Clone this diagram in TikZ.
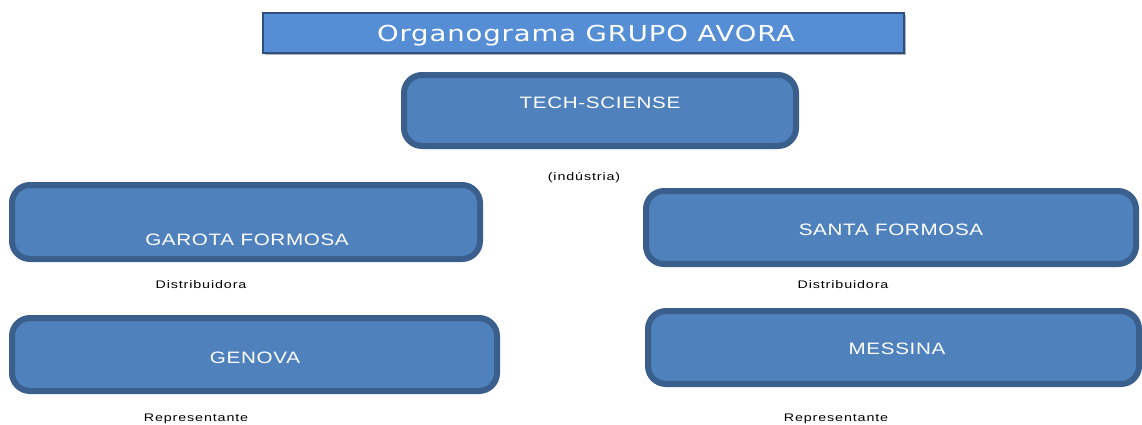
\documentclass[tikz,border=0pt]{standalone}
\usepackage{fontspec}
\setmainfont{Liberation Sans}
\newfontfamily\titlefont[FakeStretch=1.25,LetterSpace=4]{DejaVu Sans}
\newfontfamily\boxfont[FakeStretch=1.25,LetterSpace=4]{Liberation Sans}
\newfontfamily\smallfont[FakeStretch=1.3,LetterSpace=8]{Liberation Sans}
\usetikzlibrary{shadows}
\definecolor{boxfill}{HTML}{4F81BD}
\definecolor{boxline}{HTML}{3A5F8C}
\definecolor{titlefill}{HTML}{558ED5}
\definecolor{titleline}{HTML}{2D4E7E}
\tikzset{
  orgbox/.style={draw=boxline, line width=6pt, fill=boxfill, rounded corners=18pt, inner sep=0pt},
  titlebox/.style={draw=titleline, line width=1.5pt, fill=titlefill, inner sep=0pt,
    drop shadow={shadow xshift=1.5pt, shadow yshift=-1.5pt, opacity=0.5, fill=black!60}},
  boxtext/.style={text=white, font=\boxfont\fontsize{16.5}{18}\selectfont, inner sep=0pt, anchor=base},
  titletext/.style={text=white, font=\titlefont\fontsize{22}{25}\selectfont, inner sep=0pt, anchor=base},
  sublabel/.style={text=black, font=\smallfont\fontsize{11}{13}\selectfont, inner sep=0pt, anchor=base}
}
\begin{document}
\begin{tikzpicture}[x=1pt,y=-1pt]
\useasboundingbox (0,0) rectangle (1142,424);
% title
\node[titlebox, minimum width=641pt, minimum height=40pt] (title) at (583.5,33) {};
\node[titletext] (titlet) at (586,41) {Organograma GRUPO AVORA};
% boxes
\node[orgbox, minimum width=392pt, minimum height=71pt] (tech) at (600,110.5) {};
\node[boxtext] (techt) at (600,108) {TECH-SCIENSE};
\node[sublabel] (techl) at (584,180) {(indústria)};

\node[orgbox, minimum width=468pt, minimum height=74pt] (garota) at (246,222) {};
\node[boxtext] (garotat) at (247,245) {GAROTA FORMOSA};
\node[sublabel] (garotal) at (201,288) {Distribuidora};

\node[orgbox, minimum width=490pt, minimum height=73pt] (santa) at (891,227.5) {};
\node[boxtext] (santat) at (891,235) {SANTA FORMOSA};
\node[sublabel] (santal) at (843,288) {Distribuidora};

\node[orgbox, minimum width=485pt, minimum height=73pt] (genova) at (254.5,354.5) {};
\node[boxtext] (genovat) at (255,363) {GENOVA};
\node[sublabel] (genoval) at (196,421) {Representante};

\node[orgbox, minimum width=491pt, minimum height=73pt] (messina) at (893.5,347.5) {};
\node[boxtext] (messinat) at (897,354) {MESSINA};
\node[sublabel] (messinal) at (836,421) {Representante};
\end{tikzpicture}
\end{document}
